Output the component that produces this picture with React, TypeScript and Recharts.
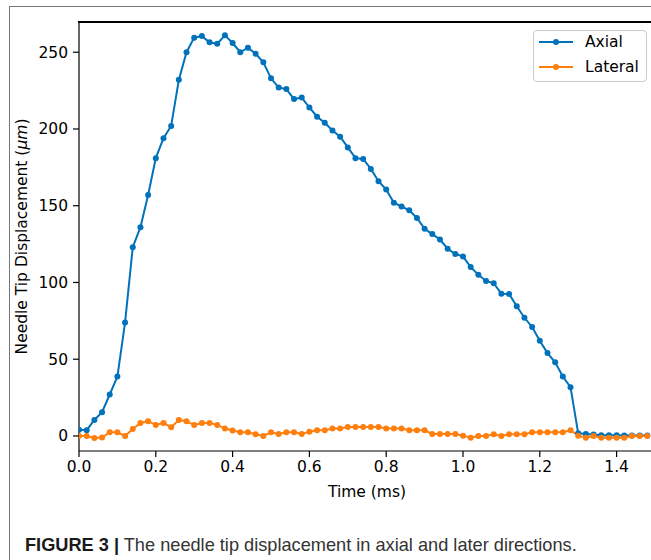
import React from "react";
import { LineChart, Line, XAxis, YAxis, Label } from "recharts";

const timeMs = [
  0.0, 0.02, 0.04, 0.06, 0.08, 0.1, 0.12, 0.14, 0.16, 0.18, 0.2, 0.22, 0.24, 0.26, 0.28,
  0.3, 0.32, 0.34, 0.36, 0.38, 0.4, 0.42, 0.44, 0.46, 0.48, 0.5, 0.52, 0.54, 0.56, 0.58,
  0.6, 0.62, 0.64, 0.66, 0.68, 0.7, 0.72, 0.74, 0.76, 0.78, 0.8, 0.82, 0.84, 0.86, 0.88,
  0.9, 0.92, 0.94, 0.96, 0.98, 1.0, 1.02, 1.04, 1.06, 1.08, 1.1, 1.12, 1.14, 1.16, 1.18,
  1.2, 1.22, 1.24, 1.26, 1.28, 1.3, 1.32, 1.34, 1.36, 1.38, 1.4, 1.42, 1.44, 1.46, 1.48,
];

const axial = [
  4, 3.8, 10.4, 15.5, 27, 38.7, 74, 123, 136, 157, 181, 194, 202, 232, 250,
  259.5, 260.5, 256.5, 255.5, 261, 256, 250, 253, 249, 243.5, 233, 227, 226, 219.5, 220.5,
  214, 208, 204, 199, 195, 188, 181, 180.5, 174, 166, 160.5, 152, 149.5, 147, 142,
  135, 131.5, 128, 122, 118.5, 117, 110, 105, 101, 99.5, 92.7, 92.5, 84.5, 77, 71,
  62, 54, 48, 38.7, 31.8, 1.7, 1.2, 1.0, 0.5, 0.5, 0.5, 0.3, 0.3, 0.3, 0.3,
];

const lateral = [
  0, 0, -1.3, -1, 2.4, 2.4, 0, 4.6, 8.5, 9.6, 7.2, 8.5, 5.7, 10.4, 9.6,
  7.2, 8.5, 8.5, 7.2, 4.8, 3.5, 2.4, 2.4, 1.1, 0, 2.4, 1.3, 2.4, 2.4, 1.3,
  2.8, 3.7, 3.7, 4.8, 4.8, 5.9, 5.9, 5.9, 5.9, 5.9, 4.8, 4.8, 4.8, 3.7, 3.7,
  3.7, 1.3, 1.3, 1.3, 1.3, 0.2, -1.1, 0, 0, 1.1, 0, 1.1, 1.1, 1.1, 2.4,
  2.4, 2.4, 2.4, 2.4, 3.7, 0.2, -1.1, 0, -1.1, -1.1, -1.1, -1.1, 0, 0, 0,
];

const xTicks = [0, 0.2, 0.4, 0.6, 0.8, 1.0, 1.2, 1.4];
const yTicks = [0, 50, 100, 150, 200, 250];
const seriesNames = ["Axial", "Lateral"];

const Y_MIN = -9.8;
const Y_MAX = 269.7;
const BLUE = "#0072bb";
const ORANGE = "#ff7f0e";
const TICK_FONT = "'DejaVu Sans', sans-serif";

const data = timeMs.map((t, i) => ({ t, axial: axial[i], lateral: lateral[i] }));

const LegendBox = () => (
  <div
    style={{
      position: "absolute",
      left: 533,
      top: 30,
      width: 112,
      height: 50,
      border: "1px solid #cccccc",
      borderRadius: 4,
      background: "rgba(255,255,255,0.8)",
      fontFamily: TICK_FONT,
      fontSize: 15.5,
      color: "#000",
    }}
  >
    {seriesNames.map((name, i) => {
      const color = i === 0 ? BLUE : ORANGE;
      const cy = 11.3 + i * 24.4;
      return (
        <div key={name}>
          <svg
            width={36}
            height={10}
            style={{ position: "absolute", left: 4, top: cy - 5 }}
          >
            <line x1={1} y1={5} x2={35} y2={5} stroke={color} strokeWidth={2} />
            <circle cx={18} cy={5} r={3} fill={color} />
          </svg>
          <span
            style={{
              position: "absolute",
              left: 51,
              top: cy - 9,
              lineHeight: "18px",
              whiteSpace: "nowrap",
            }}
          >
            {name}
          </span>
        </div>
      );
    })}
  </div>
);

export default function App() {
  return (
    <div
      style={{
        position: "absolute",
        left: 0,
        top: 0,
        width: 651,
        height: 560,
        overflow: "hidden",
        background: "#fff",
      }}
    >
      <div
        style={{
          position: "absolute",
          left: 9,
          top: 6,
          width: 700,
          height: 600,
          borderLeft: "1px solid #777",
          borderTop: "1px solid #777",
        }}
      />
      <div style={{ position: "absolute", left: 0, top: 0 }}>
        <LineChart
          width={680}
          height={520}
          data={data}
          margin={{ top: 22, right: 25, left: 9, bottom: 39 }}
        >
          <XAxis
            type="number"
            dataKey="t"
            domain={[0, 1.5]}
            ticks={xTicks}
            allowDataOverflow
            tickFormatter={(v: number) => v.toFixed(1)}
            height={30}
            tickSize={6}
            tickMargin={4}
            axisLine={{ stroke: "#000", strokeWidth: 1.2 }}
            tickLine={{ stroke: "#000", strokeWidth: 1.2 }}
            tick={{ fill: "#000", fontFamily: TICK_FONT, fontSize: 15.5 }}
          >
            <Label
              content={(props: any) => {
                const vb = props.viewBox || {};
                return (
                  <text
                    x={vb.x + vb.width / 2}
                    y={492}
                    textAnchor="middle"
                    dominantBaseline="central"
                    fontFamily={TICK_FONT}
                    fontSize={15.5}
                    fill="#000"
                  >
                    Time (ms)
                  </text>
                );
              }}
            />
          </XAxis>
          <YAxis
            type="number"
            domain={[Y_MIN, Y_MAX]}
            ticks={yTicks}
            allowDataOverflow
            width={70}
            tickSize={6}
            tickMargin={5}
            axisLine={{ stroke: "#000", strokeWidth: 1.2 }}
            tickLine={{ stroke: "#000", strokeWidth: 1.2 }}
            tick={{ fill: "#000", fontFamily: TICK_FONT, fontSize: 15.5 }}
          >
            <Label
              content={() => (
                <text
                  x={26.5}
                  y={236.5}
                  transform="rotate(-90 26.5 236.5)"
                  textAnchor="middle"
                  fontFamily={TICK_FONT}
                  fontSize={15.5}
                  fill="#000"
                >
                  Needle Tip Displacement (<tspan fontStyle="italic">μm</tspan>)
                </text>
              )}
            />
          </YAxis>
          <Line
            type="linear"
            dataKey="axial"
            name="Axial"
            stroke={BLUE}
            strokeWidth={2}
            dot={{ r: 3, fill: BLUE, stroke: "none" }}
            activeDot={false}
            isAnimationActive={false}
          />
          <Line
            type="linear"
            dataKey="lateral"
            name="Lateral"
            stroke={ORANGE}
            strokeWidth={2}
            dot={{ r: 3, fill: ORANGE, stroke: "none" }}
            activeDot={false}
            isAnimationActive={false}
          />
        </LineChart>
      </div>
      <div
        style={{
          position: "absolute",
          left: 78.4,
          top: 21.4,
          width: 600,
          height: 1.2,
          background: "#000",
        }}
      />
      <LegendBox />
      <div
        style={{
          position: "absolute",
          left: 25,
          top: 536,
          fontFamily: "'Liberation Sans', Arial, sans-serif",
          fontSize: 18.2,
          lineHeight: "18px",
          whiteSpace: "nowrap",
          color: "#333",
        }}
      >
        <span style={{ fontWeight: "bold", color: "#1a1a1a" }}>FIGURE 3 |</span> The needle tip
        displacement in axial and later directions.
      </div>
    </div>
  );
}
